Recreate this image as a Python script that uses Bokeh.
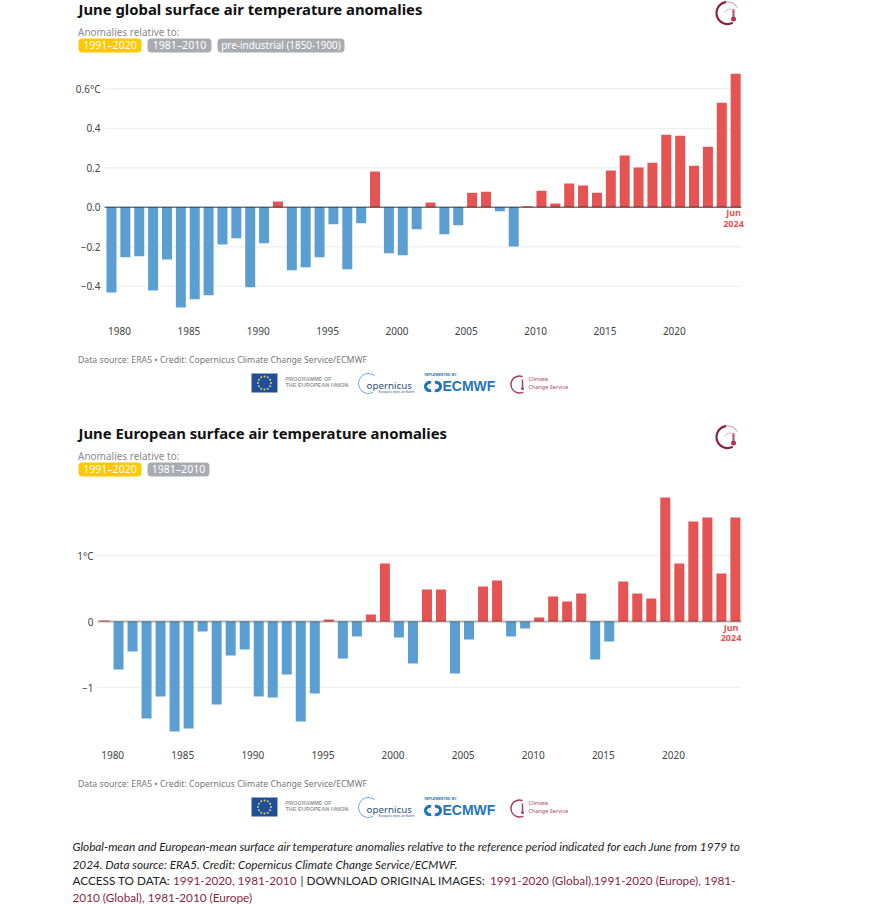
from bokeh.embed import file_html
from bokeh.resources import INLINE
from bokeh.plotting import figure
from bokeh.layouts import column
from bokeh.models import LinearAxis, FixedTicker, Range1d, BoxAnnotation
from bokeh.core.properties import value
import math

years = list(range(1979, 2025))
global_vals = [-0.431, -0.253, -0.248, -0.422, -0.264, -0.507, -0.466, -0.446, -0.188, -0.157,
               -0.405, -0.182, 0.029, -0.319, -0.304, -0.253, -0.086, -0.314, -0.081, 0.181,
               -0.233, -0.243, -0.111, 0.024, -0.137, -0.091, 0.074, 0.079, -0.020, -0.198,
               0.005, 0.084, 0.019, 0.120, 0.110, 0.074, 0.186, 0.262, 0.201, 0.226,
               0.368, 0.363, 0.211, 0.307, 0.530, 0.677]
europe_vals = [0.015, -0.727, -0.455, -1.47, -1.136, -1.667, -1.621, -0.152, -1.258, -0.515,
               -0.424, -1.136, -1.152, -0.803, -1.515, -1.091, 0.03, -0.561, -0.227, 0.106,
               0.879, -0.242, -0.636, 0.485, 0.485, -0.788, -0.273, 0.530, 0.621, -0.227,
               -0.106, 0.061, 0.379, 0.303, 0.424, -0.576, -0.303, 0.606, 0.424, 0.348,
               1.879, 0.879, 1.515, 1.576, 0.727, 1.576]
x_ticks = [1980, 1985, 1990, 1995, 2000, 2005, 2010, 2015, 2020]
global_ticks = [0.6, 0.4, 0.2, 0.0, -0.2, -0.4]
global_labels = ["0.6°C", "0.4", "0.2", "0.0", "\u22120.2", "\u22120.4"]
europe_ticks = [1, 0, -1]
europe_labels = ["1°C", "0", "\u22121"]

BLUE = "#5b9fd2"
RED = "#e55353"
INK = "#111111"
MAROON = "#8c1f43"
UI = "Noto Sans"
W = 871


def chart(page_top, height, title, vals, ticks, labels, pills, x0, step, zero_py, unit,
          grid_left, axis_px, zero_alpha, zero_w, jun_x, jun_y, xaxis_py, d, title_py):
    """One full-width figure whose frame fills the canvas; page pixels map through X/Y."""
    month = 0.42
    X = lambda px: 1979 + month + (px - x0) / step
    Y = lambda py: (zero_py - py) / unit
    p = figure(width=W, height=height, output_backend="svg", toolbar_location=None,
               x_range=Range1d(X(0), X(W)), y_range=Range1d(Y(page_top + height), Y(page_top)),
               x_axis_location=None, y_axis_location=None,
               min_border=0, min_border_left=0, min_border_right=0, min_border_top=0, min_border_bottom=0)
    p.outline_line_color = None
    p.grid.visible = False

    p.segment(x0=[X(grid_left)] * len(ticks), x1=[X(741)] * len(ticks), y0=ticks, y1=ticks,
              line_color="#eeeeee", line_width=1.2)
    bar_x = [y + month for y in years]
    p.vbar(x=bar_x, bottom=0, top=vals, width=10 / step,
           fill_color=[RED if v > 0 else BLUE for v in vals], line_color=None)
    p.segment(x0=[X(grid_left)], x1=[X(741)], y0=[0], y1=[0], line_color="#000000",
              line_alpha=zero_alpha, line_width=zero_w)

    xa = LinearAxis(ticker=FixedTicker(ticks=x_ticks), fixed_location=Y(xaxis_py))
    ya = LinearAxis(ticker=FixedTicker(ticks=ticks), fixed_location=X(axis_px),
                    major_label_overrides=dict(zip(ticks, labels)))
    for a in (xa, ya):
        a.axis_line_color = None
        a.minor_tick_line_color = None
        a.major_tick_line_color = None
        a.major_tick_in = 0
        a.major_tick_out = 0
        a.major_label_standoff = 0
        a.major_label_text_font = UI
        a.major_label_text_font_size = "10px"
        a.major_label_text_color = "#444444"
    p.add_layout(xa, "below")
    p.add_layout(ya, "left")

    def txt(px, py, s, size, color, font=UI, style="normal", align="left"):
        p.text(x=[X(px)], y=[Y(py - 0.8)], text=[s], text_font=value(font), text_font_size=size,
               text_font_style=style, text_color=color, text_align=align, text_baseline="middle")

    txt(78, title_py, title, "14.85px", INK, style="bold")
    txt(77.5, 32 + d, "Anomalies relative to:", "10px", "#8a8a8a")
    for (a, b, s, c, fs) in pills:
        p.add_layout(BoxAnnotation(left=X(a), right=X(b), top=Y(38 + d), bottom=Y(52 + d), border_radius=4,
                                   fill_color=c, fill_alpha=1, line_color=None, level="underlay"))
        txt((a + b) / 2, 45.5 + d, s, fs, "#ffffff", align="center")
    txt(jun_x, jun_y, "Jun", "9px", RED, style="bold", align="center")
    txt(jun_x, jun_y + 11, "2024", "9px", RED, style="bold", align="center")
    txt(77.5, 360 + d, "Data source: ERA5 \u2022 Credit: Copernicus Climate Change Service/ECMWF", "8.7px", "#777777")

    # emblem, upper right
    cx, cy = 727, 12.5 + d
    p.arc(x=[X(cx)], y=[Y(cy)], radius=[11], radius_units="screen", start_angle=1.7, end_angle=5.2,
          line_color=MAROON, line_width=2.2)
    p.arc(x=[X(cx)], y=[Y(cy)], radius=[11], radius_units="screen", start_angle=0.5, end_angle=1.7,
          line_color="#c98aa0", line_width=1)
    p.segment(x0=[X(cx + 6)], x1=[X(cx + 6)], y0=[Y(cy - 4)], y1=[Y(cy + 4)], line_color="#b0577a", line_width=2.2)
    p.scatter(x=[X(cx + 6)], y=[Y(cy + 6)], size=5, marker="circle", fill_color="#a63a5c", line_color=None)
    p.arc(x=[X(cx + 3)], y=[Y(cy + 3)], radius=[7], radius_units="screen", start_angle=0.6, end_angle=2.6,
          line_color="#d9b3c0", line_width=1)

    # partner strip
    p.quad(left=[X(251)], right=[X(277)], top=[Y(373 + d)], bottom=[Y(392 + d)], fill_color="#1f4e9c", line_color=None)
    p.scatter(x=[X(264 + 6.5 * math.cos(i * math.pi / 6)) for i in range(12)],
              y=[Y(382.5 + d + 6.5 * math.sin(i * math.pi / 6)) for i in range(12)],
              size=2, marker="circle", fill_color="#e8d44a", line_color=None)
    txt(285, 379.5 + d, "PROGRAMME OF", "5.5px", "#9a9a9a", font="Liberation Sans", style="bold")
    txt(285, 385.5 + d, "THE EUROPEAN UNION", "5.5px", "#9a9a9a", font="Liberation Sans", style="bold")
    p.arc(x=[X(368)], y=[Y(383 + d)], radius=[10], radius_units="screen", start_angle=0.9, end_angle=5.2,
          line_color="#6fa8d8", line_width=1)
    txt(366, 386 + d, "opernicus", "9.8px", "#2b4f77")
    txt(378, 391.5 + d, "Europe's eyes on Earth", "3.4px", "#2b4f77")
    txt(424, 375 + d, "IMPLEMENTED BY", "3.6px", "#1f77b8", font="Liberation Sans", style="bold")
    for bx, sa, ea in ((429, 1.2, 5.1), (436, -1.95, 1.95)):
        p.arc(x=[X(bx)], y=[Y(386 + d)], radius=[4], radius_units="screen", start_angle=sa, end_angle=ea,
              line_color="#1f77b8", line_width=3.2)
    txt(442, 386.5 + d, "ECMWF", "14px", "#1f77b8", font="Liberation Sans", style="bold")
    p.arc(x=[X(519)], y=[Y(384 + d)], radius=[8.5], radius_units="screen", start_angle=1.2, end_angle=5.2,
          line_color="#a63a5c", line_width=1.4)
    p.segment(x0=[X(522)], x1=[X(522)], y0=[Y(379 + d)], y1=[Y(387 + d)], line_color="#a63a5c", line_width=1.4)
    p.scatter(x=[X(522)], y=[Y(388 + d)], size=3, marker="circle", fill_color="#a63a5c", line_color=None)
    txt(528, 379.5 + d, "Climate", "5.5px", "#b0456a")
    txt(528, 387 + d, "Change Service", "5.5px", "#b0456a")
    return p, txt


GOLD, GREY = "#ffc800", "#a9abb0"
p1, _ = chart(0, 424, "June global surface air temperature anomalies", global_vals, global_ticks, global_labels,
              [(78, 141, "1991\u20132020", GOLD, "10.5px"), (147, 211, "1981\u20132010", GREY, "10.5px"),
               (217, 344, "pre-industrial (1850-1900)", GREY, "9.9px")],
              111, 13.87, 206.8, 197.4, 104, 100, 0.5, 1.5, 733, 213, 326, 0, 8.9)
p2, t = chart(424, 480, "June European surface air temperature anomalies", europe_vals, europe_ticks, europe_labels,
              [(78, 141, "1991\u20132020", GOLD, "10.5px"), (147, 209, "1981\u20132010", GREY, "10.5px")],
              104, 14.02, 621, 66, 97, 93, 0.27, 2, 730.5, 627.5, 750, 424, 433)

F = "Lato"
FS = "11.75px"
t(72, 847, "Global-mean and European-mean surface air temperature anomalies relative to the reference period indicated for each June from 1979 to", FS, "#222222", font=F, style="italic")
t(72, 865, "2024. Data source: ERA5. Credit: Copernicus Climate Change Service/ECMWF.", FS, "#222222", font=F, style="italic")
t(72, 881, "ACCESS TO DATA: ", FS, "#222222", font=F)
t(172.5, 881, "1991-2020, 1981-2010", FS, MAROON, font=F)
t(300, 881, "| DOWNLOAD ORIGINAL IMAGES: ", FS, "#222222", font=F)
t(489.5, 881, "1991-2020 (Global),1991-2020 (Europe), 1981-", FS, MAROON, font=F)
t(72, 897.5, "2010 (Global), 1981-2010 (Europe)", FS, MAROON, font=F)

page = column(p1, p2, spacing=0, styles={"position": "absolute", "left": "0px", "top": "0px"})
open("out.html", "w").write(file_html(page, INLINE))
